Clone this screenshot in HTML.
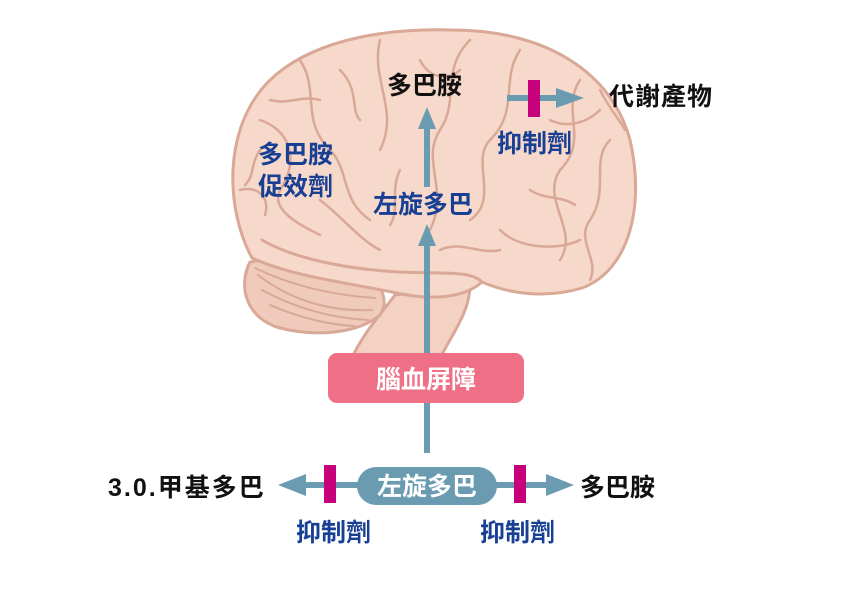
<!DOCTYPE html>
<html><head><meta charset="utf-8"><style>
body{margin:0;background:#fff;width:866px;height:613px;overflow:hidden}
svg{display:block}
text{font-family:"Liberation Sans","Noto Sans CJK TC",sans-serif;font-weight:bold}
</style></head><body>
<svg width="866" height="613" viewBox="0 0 866 613">
<g stroke="#d9a896" stroke-width="3" stroke-linejoin="round" stroke-linecap="round">
<path d="M352,358 C362,335 380,315 395,295 L470,285 C470,310 455,330 440,358 Z" fill="#f3d2c4"/>
<path d="M250,262 C238,285 245,318 280,328 C320,338 360,332 380,315 C390,300 380,285 370,275 C330,262 285,255 250,262 Z" fill="#f0cbbb"/>
<g fill="none" stroke-width="2">
<path d="M258,275 C290,300 330,312 372,310"/><path d="M262,290 C295,308 330,318 368,320"/>
<path d="M270,305 C300,318 330,325 355,326"/><path d="M255,268 C290,285 330,295 375,298"/>
</g>
<path d="M252,258 C226,210 222,130 268,82 C308,42 378,28 452,30 C545,30 612,72 630,140 C645,205 630,270 582,288 C542,300 505,292 482,282 C462,300 425,300 392,292 C342,282 292,276 252,258 Z" fill="#f6d9cb"/>
<path d="M262,240 C300,262 360,270 400,272 C440,274 470,270 482,282" fill="none"/>
<g fill="none" stroke-width="2.5">
<path d="M300,60 C320,90 300,120 330,150 C350,170 340,200 370,220"/>
<path d="M380,40 C370,80 400,110 380,150"/>
<path d="M470,40 C440,70 460,100 440,130 C420,160 450,190 430,230"/>
<path d="M520,50 C500,80 520,110 490,140 C470,160 500,200 470,220"/>
<path d="M580,80 C560,110 590,140 560,170 C540,200 580,230 560,260"/>
<path d="M260,120 C290,130 300,160 280,190 C270,210 300,225 320,235"/>
<path d="M610,140 C590,160 610,190 590,220 C575,240 600,260 590,280"/>
<path d="M340,70 C360,90 350,110 360,120"/><path d="M240,190 C260,185 270,200 265,215"/>
<path d="M500,230 C520,250 560,250 580,240"/><path d="M440,250 C460,240 480,255 500,250"/>
<path d="M400,170 C390,190 400,210 390,225"/><path d="M550,120 C570,130 590,120 600,110"/>
<path d="M270,100 C290,105 300,95 320,100"/><path d="M420,60 C430,80 450,80 460,70"/>
<path d="M600,90 C610,110 620,120 625,130"/><path d="M320,200 C340,215 360,240 380,250"/>
<path d="M530,190 C545,200 560,195 575,205"/><path d="M260,150 C250,165 255,175 245,185"/>
</g>
</g>
<g fill="#6b9bb1">
<rect x="424" y="240" width="6" height="213"/>
<polygon points="427,224 418,246 436,246"/>
<rect x="424" y="125" width="6" height="62"/>
<polygon points="427,107 418,129 436,129"/>
<rect x="507" y="95" width="52" height="6"/>
<polygon points="584,98 556,88 556,108"/>
<rect x="295" y="482" width="260" height="6"/>
<polygon points="278,485 306,474 306,496"/>
<polygon points="574,485 546,474 546,496"/>
<rect x="357" y="467" width="140" height="38" rx="19"/>
</g>
<rect x="328" y="353" width="196" height="50" rx="9" fill="#ee6f86"/>
<g fill="#c6007b">
<rect x="528" y="80" width="12" height="37"/>
<rect x="324" y="465" width="12" height="38"/>
<rect x="514" y="465" width="12" height="38"/>
</g>
<g font-size="25">
<text x="387" y="94" fill="#111">多巴胺</text>
<text x="609" y="105" fill="#111" letter-spacing="1">代謝產物</text>
<text x="497" y="152" fill="#173f93">抑制劑</text>
<text x="258" y="163" fill="#173f93">多巴胺</text>
<text x="258" y="195" fill="#173f93">促效劑</text>
<text x="373" y="213" fill="#173f93">左旋多巴</text>
<text x="426" y="388" fill="#fff" text-anchor="middle">腦血屏障</text>
<text x="427" y="495" fill="#fff" text-anchor="middle">左旋多巴</text>
<text x="108" y="496" fill="#111" letter-spacing="2">3.0.甲基多巴</text>
<text x="580" y="496" fill="#111">多巴胺</text>
<text x="296" y="541" fill="#173f93">抑制劑</text>
<text x="480" y="541" fill="#173f93">抑制劑</text>
</g>
</svg>
</body></html>
